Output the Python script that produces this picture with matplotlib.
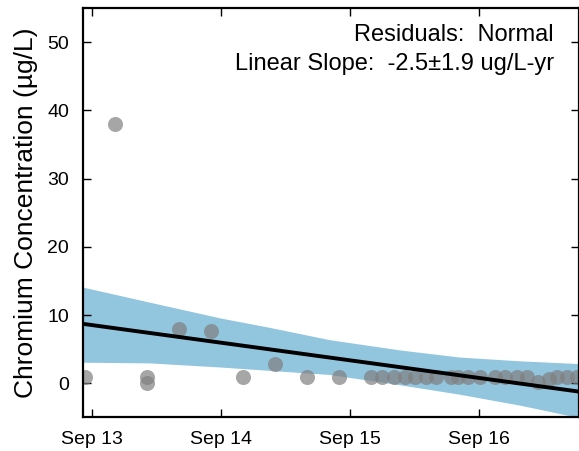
import numpy as np
import pandas as pd
import matplotlib
matplotlib.use("Agg")
import matplotlib.pyplot as plt
import matplotlib.dates as mdates

plt.rcParams['font.family'] = ['Liberation Sans', 'DejaVu Sans']

# ---- sample data ----
sample_dates = pd.to_datetime([
    "2013-08-12", "2013-11-05", "2014-02-03", "2014-02-03", "2014-05-05",
    "2014-08-04", "2014-11-02", "2015-02-01", "2015-05-03", "2015-08-01",
    "2015-10-30", "2015-12-02", "2016-01-04", "2016-02-04", "2016-03-05",
    "2016-04-03", "2016-05-01", "2016-06-13", "2016-07-04", "2016-08-01",
    "2016-09-05", "2016-10-15", "2016-11-14", "2016-12-17", "2017-01-16",
    "2017-02-15", "2017-03-18", "2017-04-11", "2017-05-09", "2017-06-04",
])
chromium = [1.0, 38.0, 0.9, 0.0, 8.0,
            7.6, 1.0, 2.9, 1.0, 1.0,
            1.0, 1.0, 1.0, 1.0, 1.0,
            1.0, 1.0, 1.0, 1.0, 1.0,
            1.0, 1.0, 1.0, 1.0, 1.0,
            0.15, 0.7, 1.0, 1.0, 1.0]

# ---- fitted trend and confidence band ----
fit_dates = pd.to_datetime(["2013-08-07", "2017-06-10"])
fit_values = [8.72, -1.2]

band_dates = pd.to_datetime([
    "2013-08-07", "2014-02-11", "2014-08-29", "2015-01-17", "2015-07-06",
    "2016-01-20", "2016-07-09", "2016-12-26", "2017-06-10",
])
band_upper = [14.1, 11.9, 9.6, 8.2, 6.4, 4.9, 3.85, 3.3, 2.9]
band_lower = [3.1, 3.0, 2.4, 1.9, 1.3, -0.2, -1.6, -3.2, -5.0]

tick_dates = pd.to_datetime(["2013-09-01", "2014-09-01", "2015-09-01", "2016-09-01"])

fig = plt.figure(figsize=(5.79, 4.51), dpi=100)
ax = fig.add_axes([0.1434, 0.0743, 0.856, 0.908])

ax.fill_between(band_dates, band_lower, band_upper, color='#92c5de', linewidth=0, zorder=1)
ax.scatter(sample_dates, chromium, s=117, color='gray', alpha=0.7, linewidths=0, zorder=2)
ax.plot(fit_dates, fit_values, color='black', linewidth=2.8, zorder=3)

ax.set_xlim(fit_dates[0], fit_dates[1])
ax.set_ylim(-5, 55)
ax.set_yticks([0, 10, 20, 30, 40, 50])
ax.set_xticks(tick_dates)
ax.xaxis.set_major_formatter(mdates.DateFormatter('%b %y'))

ax.tick_params(direction='in', length=6, width=1, top=True, right=True,
               labelsize=14, pad=10)
for sp in ax.spines.values():
    sp.set_linewidth(1.6)

ax.set_ylabel(u"Chromium Concentration (\u00b5g/L)", fontsize=19, labelpad=7)

ax.text(0.95, 0.935, "Residuals:  Normal", transform=ax.transAxes,
        ha='right', va='center', fontsize=17)
ax.text(0.95, 0.863, u"Linear Slope:  -2.5\u00b11.9 ug/L-yr", transform=ax.transAxes,
        ha='right', va='center', fontsize=17)

fig.savefig("out.png", dpi=100)
